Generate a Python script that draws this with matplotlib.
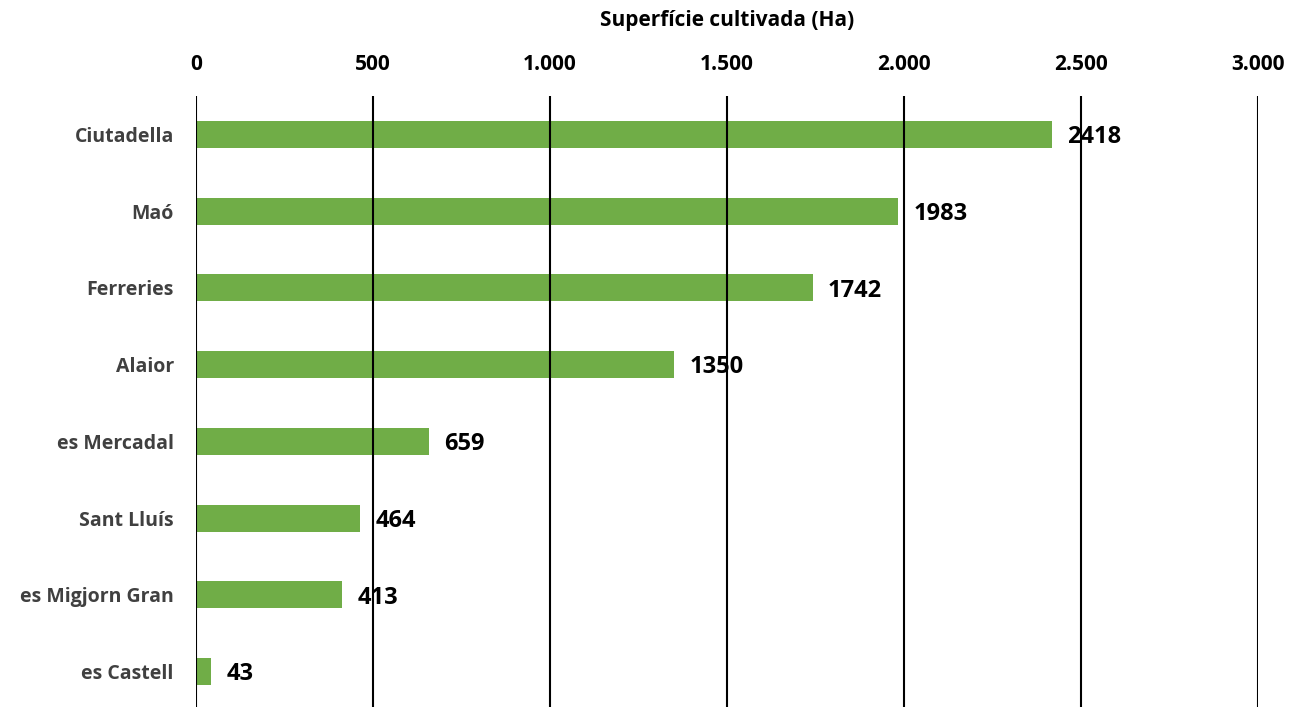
import matplotlib
matplotlib.use("Agg")
import matplotlib.pyplot as plt
from matplotlib.ticker import FuncFormatter

### DATA ###

municipis = ["Ciutadella", "Maó", "Ferreries", "Alaior", "es Mercadal",
             "Sant Lluís", "es Migjorn Gran", "es Castell"]
superficie = [2418, 1983, 1742, 1350, 659, 464, 413, 43]
ticks = [0, 500, 1000, 1500, 2000, 2500, 3000]

### PLOT ###

plt.rcParams['font.family'] = ['Open Sans', 'DejaVu Sans']

fig = plt.figure(figsize=(12.92, 7.07), dpi=100)
ax = fig.add_axes([196 / 1292, 0, 1062 / 1292, 611 / 707])

pos = list(range(len(municipis)))
ax.barh(pos, superficie, height=0.35, color='#70AD47', zorder=2)

for y, v in zip(pos, superficie):
    ax.annotate(str(v), (v, y), xytext=(11, -2), textcoords='offset points',
                ha='left', va='center', fontsize=17, fontweight='bold',
                color='black', zorder=1)

ax.set_xlim(0, 3000)
ax.set_ylim(7.46, -0.5)
ax.set_xticks(ticks)
ax.xaxis.set_major_formatter(FuncFormatter(lambda x, p: f"{int(x):,}".replace(",", ".")))
ax.xaxis.tick_top()
ax.xaxis.set_label_position('top')
ax.tick_params(axis='x', length=0, pad=15, labelsize=15)
ax.tick_params(axis='y', length=0, pad=16, labelsize=14, labelcolor='#404040')
for lab in ax.get_xticklabels() + ax.get_yticklabels():
    lab.set_fontweight('bold')
ax.set_yticks(pos)
ax.set_yticklabels(municipis, fontweight='bold')

ax.grid(axis='x', color='black', linewidth=1.5, zorder=3)
ax.set_axisbelow(False)
for s in ax.spines.values():
    s.set_visible(False)

ax.set_xlabel("Superfície cultivada (Ha)", fontsize=15, fontweight='bold', labelpad=20)

fig.savefig("out.png", dpi=100)
